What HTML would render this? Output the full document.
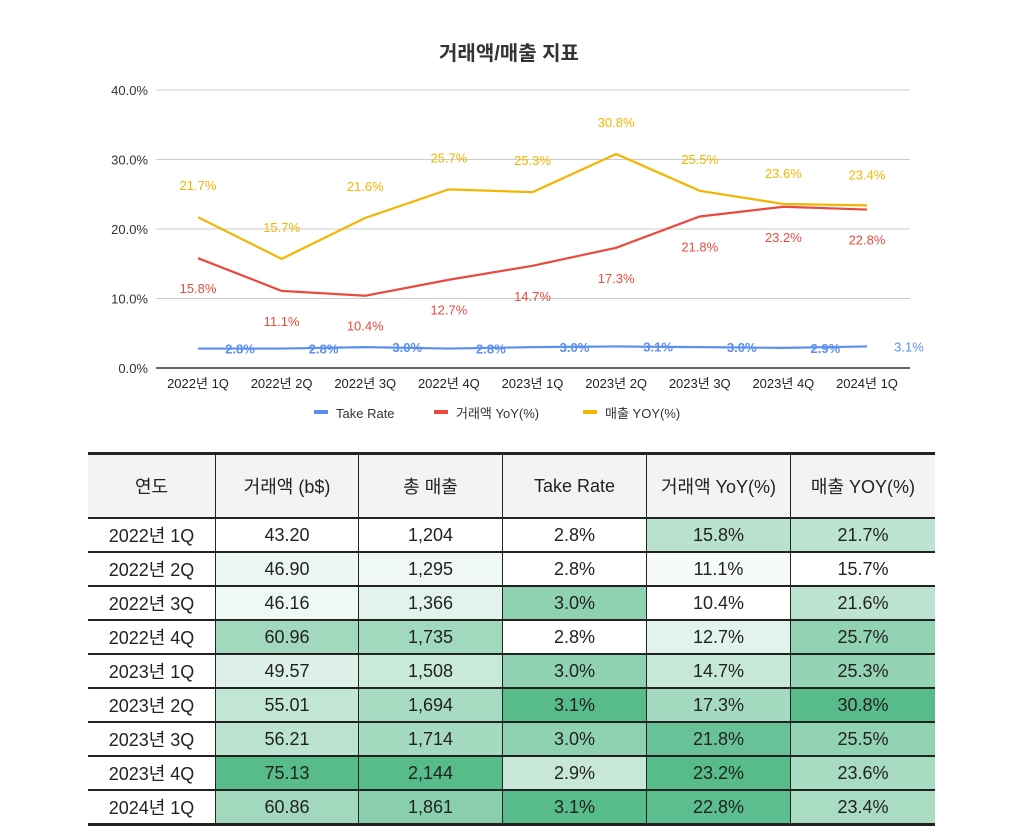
<!DOCTYPE html>
<html><head><meta charset="utf-8">
<style>
body{margin:0;width:1018px;height:832px;background:#fff;font-family:"Liberation Sans","Noto Sans CJK KR",sans-serif;overflow:hidden;position:relative}
svg text{font-family:"Liberation Sans","Noto Sans CJK KR",sans-serif}
table{position:absolute;left:88px;top:452px;width:842px;table-layout:fixed;border-collapse:collapse;font-size:18px;color:#222}
td{text-align:center;border-left:1px solid #222;border-right:1px solid #222;border-top:2px solid #222;height:32px;padding:0;white-space:nowrap;overflow:hidden}
tr:first-child td{height:62px;background:#f3f3f3;border-top:3px solid #222}
tr:last-child td{border-bottom:3px solid #222}
td:first-child{border-left:none}
td:last-child{border-right:none}
</style></head><body>
<svg id="chart" width="1018" height="440" style="position:absolute;left:0;top:0"></svg>
<table id="tbl"></table>
<script>
const categories=["2022년 1Q","2022년 2Q","2022년 3Q","2022년 4Q","2023년 1Q","2023년 2Q","2023년 3Q","2023년 4Q","2024년 1Q"];
const takeRate=[2.8,2.8,3.0,2.8,3.0,3.1,3.0,2.9,3.1];
const gmvYoy=[15.8,11.1,10.4,12.7,14.7,17.3,21.8,23.2,22.8];
const revYoy=[21.7,15.7,21.6,25.7,25.3,30.8,25.5,23.6,23.4];
const gmv=[43.20,46.90,46.16,60.96,49.57,55.01,56.21,75.13,60.86];
const revenue=[1204,1295,1366,1735,1508,1694,1714,2144,1861];
const yTicks=[0,10,20,30,40];
const NS="http://www.w3.org/2000/svg";
const svg=document.getElementById('chart');
const x0=156,x1=910,y0=368,yTop=90;
const xs=i=>198+i*((867-198)/(categories.length-1));
const ys=v=>y0-(v/40)*(y0-yTop);
function el(t,a,p){const e=document.createElementNS(NS,t);for(const k in a)e.setAttribute(k,a[k]);(p||svg).appendChild(e);return e;}
const title=el('text',{x:509,y:60,'text-anchor':'middle','font-size':20,'font-weight':'bold',fill:'#333'});
title.textContent='거래액/매출 지표';


yTicks.forEach(v=>{
  const l=el('line',{x1:x0,x2:x1,y1:ys(v),y2:ys(v),stroke:v==0?'#333':'#ccc','stroke-width':v==0?1.5:1});
  
  
  const t=el('text',{x:148,y:ys(v)+5,'text-anchor':'end','font-size':13,fill:'#333'});
  t.textContent=v.toFixed(1)+'%';
  
  
});
categories.forEach((c,i)=>{
  const t=el('text',{x:xs(i),y:388,'text-anchor':'middle','font-size':13,fill:'#222'});
  t.textContent=c;
  
  
});
function series(vals,color,name,labelPos){
  const p=el('polyline',{points:vals.map((v,i)=>xs(i)+','+ys(v)).join(' '),fill:'none',stroke:color,'stroke-width':2.2});
  
  
  vals.forEach((v,i)=>{
    const off=labelPos(i);
    const t=el('text',{x:xs(i)+(off.dx||0),y:ys(v)+off.dy,'text-anchor':'middle','font-size':13,'font-weight':off.bold?'bold':'normal',fill:color});
    t.textContent=v.toFixed(1)+'%';
    
    
  });
}
series(takeRate,'#5b8ff0','take-rate',i=>({dx:42,dy:5,bold:i<8}));
series(gmvYoy,'#e94a3f','gmv-yoy',i=>({dy:35}));
series(revYoy,'#f4b400','rev-yoy',i=>({dy:i==7||i==8?-26:-27}));
const legend=[["Take Rate",'#5b8ff0',314],["거래액 YoY(%)",'#e94a3f',434],["매출 YOY(%)",'#f4b400',583]];
legend.forEach(([n,c,x])=>{
  const r=el('rect',{x:x,y:410,width:14,height:4,fill:c});
  
  
  const t=el('text',{x:x+22,y:418,'font-size':13,fill:'#333'});
  t.textContent=n;
  
  
});
const tbl=document.getElementById('tbl');
const widths=[127,142,143,143,143,144];
const head=["연도","거래액 (b$)","총 매출","Take Rate","거래액 YoY(%)","매출 YOY(%)"];
function shade(v,arr){const mn=Math.min(...arr),mx=Math.max(...arr);const f=(v-mn)/(mx-mn);
  const c=[255+(87-255)*f,255+(187-255)*f,255+(138-255)*f].map(Math.round);return `rgb(${c})`;}
let tr=document.createElement('tr');tbl.appendChild(tr);
head.forEach((h,j)=>{const td=document.createElement('td');td.textContent=h;td.style.width=widths[j]+'px';
  
  
  tr.appendChild(td);});
const cols=[gmv,revenue,takeRate,gmvYoy,revYoy];
categories.forEach((c,i)=>{
  const r=document.createElement('tr');tbl.appendChild(r);
  
  
  const vals=[c,gmv[i].toFixed(2),revenue[i].toLocaleString('en-US'),takeRate[i].toFixed(1)+'%',gmvYoy[i].toFixed(1)+'%',revYoy[i].toFixed(1)+'%'];
  vals.forEach((v,j)=>{const td=document.createElement('td');td.textContent=v;
    if(j>0)td.style.background=shade(cols[j-1][i],cols[j-1]);
    
    
    r.appendChild(td);});
});
</script>
</body></html>
